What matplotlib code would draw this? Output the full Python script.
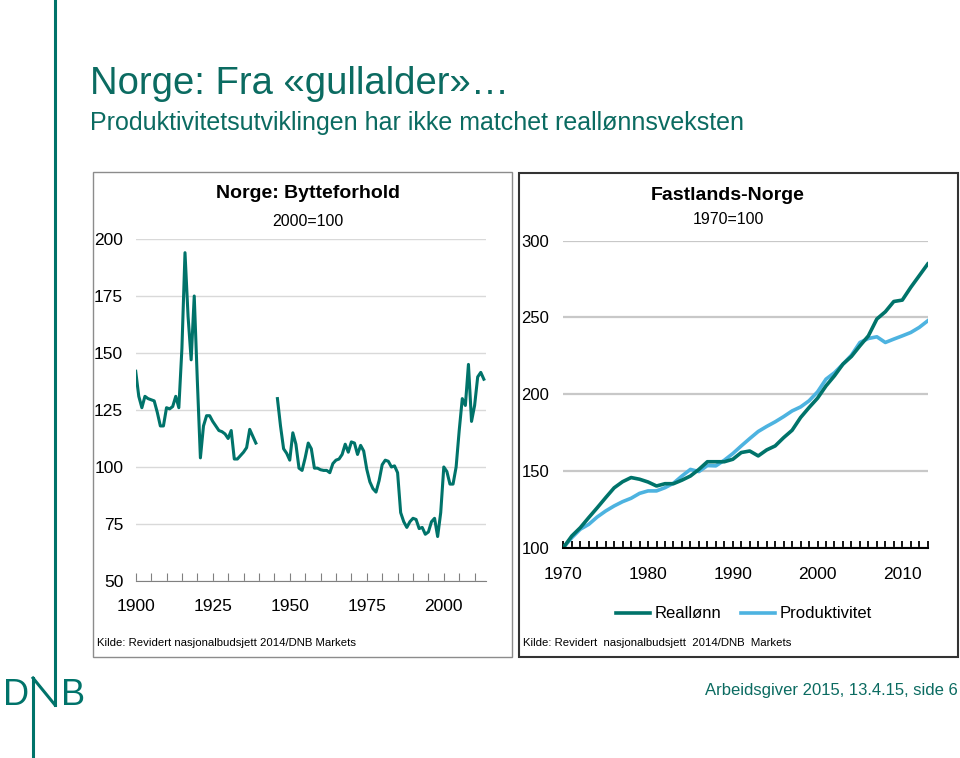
import numpy as np
import matplotlib
matplotlib.use("Agg")
import matplotlib.pyplot as plt
from matplotlib.patches import Rectangle
from matplotlib.lines import Line2D

# --- data ---------------------------------------------------------------
# Norge: Bytteforhold (2000=100), 1900-2013, gap during the war years
tot_years = list(range(1900, 2014))
tot_values = [
    142, 131, 126, 131, 130, 129.5, 129, 124, 118, 118,          # 1900-09
    126, 125.5, 126.5, 131, 126, 152, 194, 166, 147, 175,        # 1910-19
    138, 104, 118, 122.5, 122.5, 120, 118, 116, 115.5, 114.5,    # 1920-29
    112.5, 116, 103.5, 103.5, 105, 106.5, 108.5, 116.5, 113.5, 110.5,  # 1930-39
    None, None, None, None, None, None, 130, 118, 108, 106,      # 1940-49
    103, 115, 110, 99.5, 98.5, 104, 110.5, 108, 99.5, 99.5,      # 1950-59
    98.8, 98.5, 98.5, 97.5, 101.5, 103, 103.5, 105.5, 110, 106.5,  # 1960-69
    111, 110.5, 105.5, 109.5, 107, 99, 93.5, 90.5, 89, 94,       # 1970-79
    101, 103, 102.5, 100, 100.5, 97.5, 80, 76, 73.5, 76,         # 1980-89
    77.5, 77, 73, 73.5, 70.5, 71.5, 76, 77.5, 69.5, 80,          # 1990-99
    100, 98, 92.5, 92.5, 100, 116, 130, 127, 145, 120,           # 2000-09
    127, 139.5, 141.5, 138.5,                                    # 2010-13
]

# Fastlands-Norge (1970=100)
fn_years = list(range(1970, 2014))
realloenn = [
    100, 107.6, 113, 119.6, 126, 132.6, 139, 143, 145.7, 144.6,
    142.8, 140.2, 141.7, 141.7, 144, 146.7, 151, 156, 156, 156,
    157.6, 162, 163, 159.8, 163.7, 166.3, 171.7, 176.5, 184.8, 191.3,
    197.4, 205.4, 212, 219.6, 224.6, 231.5, 238, 249, 253.7, 260.4,
    261.3, 269.6, 277.2, 284.8,
]
produktivitet = [
    100, 106.5, 112, 115.2, 120, 123.9, 127.2, 130, 132.2, 135.4,
    137, 137, 139.1, 142, 146.7, 151, 149.6, 153.5, 153.3, 157,
    161.3, 166.3, 171.1, 175.7, 179, 182, 185.4, 189.1, 191.7, 195.7,
    201.5, 209.8, 214, 219.6, 225.4, 233.7, 236.3, 237.4, 233.7, 235.9,
    238, 240.2, 243.5, 247.8,
]

TEAL = "#00736a"
TITLE_TEAL = "#0b6b61"
LIGHT_BLUE = "#4db3e0"
FONT = "Liberation Sans"
plt.rcParams["font.family"] = [FONT, "DejaVu Sans"]

W, H = 960, 758


def fx(x):
    return x / W


def fy(y):
    return 1 - y / H


fig = plt.figure(figsize=(9.6, 7.58), dpi=100)
fig.patch.set_facecolor("white")

# --- slide decoration ---------------------------------------------------
fig.text(fx(90), fy(94), "Norge: Fra \u00abgullalder\u00bb\u2026", color=TITLE_TEAL,
         fontsize=27.5, va="baseline")
fig.text(fx(90), fy(130), "Produktivitetsutviklingen har ikke matchet reall\u00f8nnsveksten",
         color=TITLE_TEAL, fontsize=18, va="baseline")
fig.text(fx(958), fy(695), "Arbeidsgiver 2015, 13.4.15, side 6", color=TITLE_TEAL,
         fontsize=12, va="baseline", ha="right")

# DNB logo: D and B as letters, N as strokes (right stroke runs up the page)
fig.text(fx(3), fy(705), "D", color=TEAL, fontsize=26, va="baseline", ha="left")
fig.text(fx(61), fy(705), "B", color=TEAL, fontsize=26, va="baseline", ha="left")
for xs, ys in [((55, 55), (0, 705)), ((33, 33), (678, 758)), ((33, 55), (678, 705))]:
    fig.add_artist(Line2D([fx(v) for v in xs], [fy(v) for v in ys],
                          transform=fig.transFigure, color=TEAL, lw=2.2))

# panel frames
fig.add_artist(Rectangle((fx(93), fy(657)), fx(512) - fx(93), fy(172) - fy(657),
                         transform=fig.transFigure, fill=False, ec="#8c8c8c", lw=1))
fig.add_artist(Rectangle((fx(519), fy(657)), fx(958) - fx(519), fy(173) - fy(657),
                         transform=fig.transFigure, fill=False, ec="#333333", lw=1.5))

# --- left panel: Bytteforhold ---------------------------------------------
ax1 = fig.add_axes([fx(135.7), fy(581), fx(485.7) - fx(135.7), fy(239) - fy(581)])
vals = np.array([np.nan if v is None else v for v in tot_values], dtype=float)
ax1.plot(tot_years, vals, color=TEAL, lw=2.2, solid_joinstyle="round")
ax1.set_xlim(1900, 2013.6)
ax1.set_ylim(50, 200)
ax1.set_yticks(range(50, 201, 25))
ax1.set_xticks(range(1900, 2014, 5))
ax1.set_xticklabels([str(y) if (y - 1900) % 25 == 0 else "" for y in range(1900, 2014, 5)])
ax1.yaxis.grid(True, color="#d9d9d9", lw=1)
ax1.set_axisbelow(True)
for s in ["top", "left", "right"]:
    ax1.spines[s].set_visible(False)
ax1.spines["bottom"].set_color("#808080")
ax1.tick_params(axis="x", direction="in", length=6, color="#808080", pad=13, labelsize=12.5)
ax1.tick_params(axis="y", length=0, pad=9, labelsize=12.5)
ax1.patch.set_alpha(0)

fig.text(fx(308), fy(193), "Norge: Bytteforhold", ha="center", va="center",
         fontsize=14, fontweight="bold")
fig.text(fx(308), fy(221), "2000=100", ha="center", va="center", fontsize=11.5)
fig.text(fx(97), fy(643), "Kilde: Revidert nasjonalbudsjett 2014/DNB Markets",
         ha="left", va="center", fontsize=8.2)

# --- right panel: Fastlands-Norge -----------------------------------------
ax2 = fig.add_axes([fx(563.3), fy(547.7), fx(927.7) - fx(563.3), fy(240.7) - fy(547.7)])
ax2.plot(fn_years, produktivitet, color=LIGHT_BLUE, lw=2.6, label="Produktivitet")
ax2.plot(fn_years, realloenn, color=TEAL, lw=2.6, label="Reall\u00f8nn")
ax2.set_xlim(1970, 2013)
ax2.set_ylim(100, 300)
ax2.set_yticks(range(100, 301, 50))
ax2.set_xticks(fn_years)
ax2.set_xticklabels([str(y) if y % 10 == 0 else "" for y in fn_years])
ax2.yaxis.grid(True, color="#c8c8c8", lw=1.6)
ax2.set_axisbelow(True)
for s in ["top", "left", "right"]:
    ax2.spines[s].set_visible(False)
ax2.spines["bottom"].set_color("black")
ax2.spines["bottom"].set_linewidth(1.5)
ax2.tick_params(axis="x", direction="in", length=5, width=1.3, color="black", pad=14,
                labelsize=12.5)
ax2.tick_params(axis="y", length=0, pad=10, labelsize=12)
ax2.patch.set_alpha(0)

handles, labels = ax2.get_legend_handles_labels()
leg = ax2.legend(handles[::-1], labels[::-1], loc="center", ncol=2, frameon=False,
                 bbox_to_anchor=(fx(744), fy(614)), bbox_transform=fig.transFigure,
                 handlelength=2.0, handletextpad=0.3, columnspacing=1.2,
                 prop={"size": 12})

fig.text(fx(728), fy(195), "Fastlands-Norge", ha="center", va="center",
         fontsize=14, fontweight="bold")
fig.text(fx(728), fy(220), "1970=100", ha="center", va="center", fontsize=11.5)
fig.text(fx(523), fy(643), "Kilde: Revidert  nasjonalbudsjett  2014/DNB  Markets",
         ha="left", va="center", fontsize=8.2)

fig.savefig("out.png", dpi=100)
